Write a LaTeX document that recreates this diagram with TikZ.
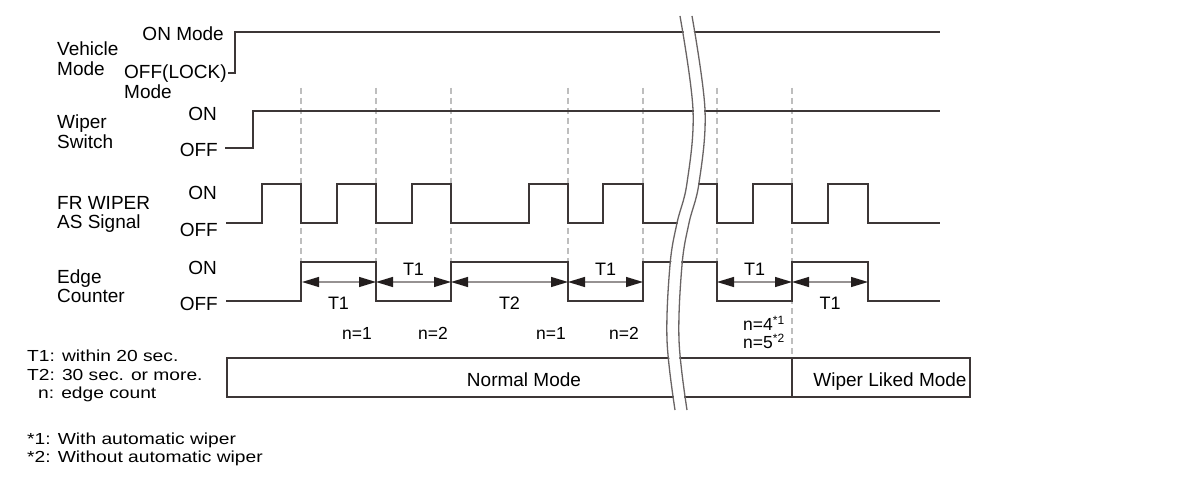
\documentclass[tikz,border=0pt]{standalone}
\usepackage{fontspec}
\setmainfont{Liberation Sans}
\newfontfamily\legendfont[FakeStretch=1.2]{Liberation Sans}
\usetikzlibrary{arrows.meta}
\definecolor{wave}{RGB}{60,54,54}
\definecolor{dashc}{RGB}{190,190,190}
\definecolor{arrc}{RGB}{150,146,146}
\definecolor{brk}{RGB}{105,100,100}
\definecolor{tipc}{RGB}{35,30,30}
\begin{document}
\begin{tikzpicture}[x=1pt,y=-1pt,
  wv/.style={draw=wave,line width=2pt,line join=miter},
  guide/.style={draw=dashc,line width=1.2pt,dash pattern=on 6pt off 4pt},
  tipshape/.tip={Triangle[length=17pt,width=10pt,color=tipc,fill=tipc]},
  dim/.style={draw=arrc,line width=1.2pt,tipshape-tipshape},
  brkline/.style={draw=brk,line width=1.3pt},
  lbl/.style={inner sep=0pt,font=\fontsize{19}{20}\selectfont},
  tl/.style={inner sep=0pt,font=\fontsize{18}{20}\selectfont},
  nl/.style={inner sep=0pt,font=\fontsize{17.5}{18}\selectfont},
  lg/.style={inner sep=0pt,font=\legendfont\fontsize{16}{18}\selectfont}]
\useasboundingbox[fill=white] (0,0) rectangle (1200,484);

% dashed guide lines
\foreach \x in {301,376,451,568,643,717} \draw[guide] (\x,88) -- (\x,262);
\draw[guide] (792,88) -- (792,358);

% waveforms
\draw[wv] (228,73) -- (235,73) -- (235,32) -- (940,32);
\draw[wv] (225,148) -- (253,148) -- (253,111) -- (940,111);
\draw[wv] (226,223) -- (262,223) -- (262,184) -- (301,184) -- (301,223) -- (337,223) -- (337,184) -- (376,184) -- (376,223) -- (412,223) -- (412,184) -- (451,184) -- (451,223) -- (529,223) -- (529,184) -- (568,184) -- (568,223) -- (603,223) -- (603,184) -- (643,184) -- (643,223) -- (683,223);
\draw[wv] (693,184) -- (717,184) -- (717,223) -- (753,223) -- (753,184) -- (792,184) -- (792,223) -- (828,223) -- (828,184) -- (868,184) -- (868,223) -- (940,223);
\draw[wv] (226,301) -- (301,301) -- (301,262) -- (376,262) -- (376,301) -- (451,301) -- (451,262) -- (568,262) -- (568,301) -- (643,301) -- (643,262) -- (717,262) -- (717,301) -- (792,301) -- (792,262) -- (868,262) -- (868,301) -- (940,301);

% interval arrows
\coordinate (e1) at (302,282); \coordinate (e2) at (376,282); \coordinate (e3) at (451,282);
\coordinate (e4) at (568,282); \coordinate (e5) at (643,282);
\coordinate (e6) at (717,282); \coordinate (e7) at (792,282); \coordinate (e8) at (868,282);
\draw[dim] (e1) -- (e2);
\draw[dim] (e2) -- (e3);
\draw[dim] (e3) -- (e4);
\draw[dim] (e4) -- (e5);
\draw[dim] (e6) -- (e7);
\draw[dim] (e7) -- (e8);

% mode box
\draw[wv] (227,358) rectangle (970,397);
\draw[draw=wave,line width=1.2pt] (792,358) -- (792,397);

% break
\draw[white,line width=10pt] plot[smooth,tension=0.6] coordinates {(686,16) (699,110) (693,183) (683,223) (676,265) (673,340) (681,410)};
\draw[brkline] plot[smooth,tension=0.6] coordinates {(680,16) (693,110) (687,183) (677,223) (670,265) (667,340) (675,410)};
\draw[brkline] plot[smooth,tension=0.6] coordinates {(692,16) (705,110) (699,183) (689,223) (682,265) (679,340) (687,410)};

% signal labels
\node[lbl,anchor=base west] (vm1) at (57,56) {Vehicle};
\node[lbl,anchor=base west] (vm2) at (57,76) {Mode};
\node[lbl,anchor=base east] (von) at (224,41) {ON Mode};
\node[lbl,anchor=base west] (voff1) at (124,79) {OFF(LOCK)};
\node[lbl,anchor=base west] (voff2) at (124,99) {Mode};

\node[lbl,anchor=base west] (ws1) at (57,129) {Wiper};
\node[lbl,anchor=base west] (ws2) at (57,149) {Switch};
\node[lbl,anchor=base east] (wson) at (217,121) {ON};
\node[lbl,anchor=base east] (wsoff) at (218,157) {OFF};

\node[lbl,anchor=base west] (fr1) at (57,209) {FR WIPER};
\node[lbl,anchor=base west] (fr2) at (57,229) {AS Signal};
\node[lbl,anchor=base east] (fron) at (217,200) {ON};
\node[lbl,anchor=base east] (froff) at (218,236) {OFF};

\node[lbl,anchor=base west] (ec1) at (57,283) {Edge};
\node[lbl,anchor=base west] (ec2) at (57,302) {Counter};
\node[lbl,anchor=base east] (econ) at (217,274) {ON};
\node[lbl,anchor=base east] (ecoff) at (218,310) {OFF};

% interval labels
\node[tl,anchor=base] (t1a) at (338.5,309) {T1};
\node[tl,anchor=base] (t1b) at (413.5,275) {T1};
\node[tl,anchor=base] (t2) at (509.5,309) {T2};
\node[tl,anchor=base] (t1c) at (605.5,275) {T1};
\node[tl,anchor=base] (t1d) at (754.5,275) {T1};
\node[tl,anchor=base] (t1e) at (830,309) {T1};

% edge counts
\node[nl,anchor=base east] (n1a) at (372,339) {n=1};
\node[nl,anchor=base east] (n2a) at (448,339) {n=2};
\node[nl,anchor=base east] (n1b) at (566,339) {n=1};
\node[nl,anchor=base east] (n2b) at (639,339) {n=2};
\node[nl,anchor=base west] (n4) at (743,330) {n=4\raisebox{6pt}{\fontsize{12}{12}\selectfont *1}};
\node[nl,anchor=base west] (n5) at (743,348) {n=5\raisebox{6pt}{\fontsize{12}{12}\selectfont *2}};

% mode box texts
\node[lbl,anchor=base] (normal) at (524,386) {Normal Mode};
\node[lbl,anchor=base] (linked) at (890,386) {Wiper Liked Mode};

% legend
\node[lg,anchor=base west] (lg1) at (27,361) {T1: within 20 sec.};
\node[lg,anchor=base west] (lg2) at (27,380) {T2: 30 sec. or more.};
\node[lg,anchor=base west] (lg3) at (38,398) {n: edge count};
\node[lg,anchor=base west] (fn1) at (27,444) {*1: With automatic wiper};
\node[lg,anchor=base west] (fn2) at (27,462) {*2: Without automatic wiper};
\end{tikzpicture}
\end{document}
